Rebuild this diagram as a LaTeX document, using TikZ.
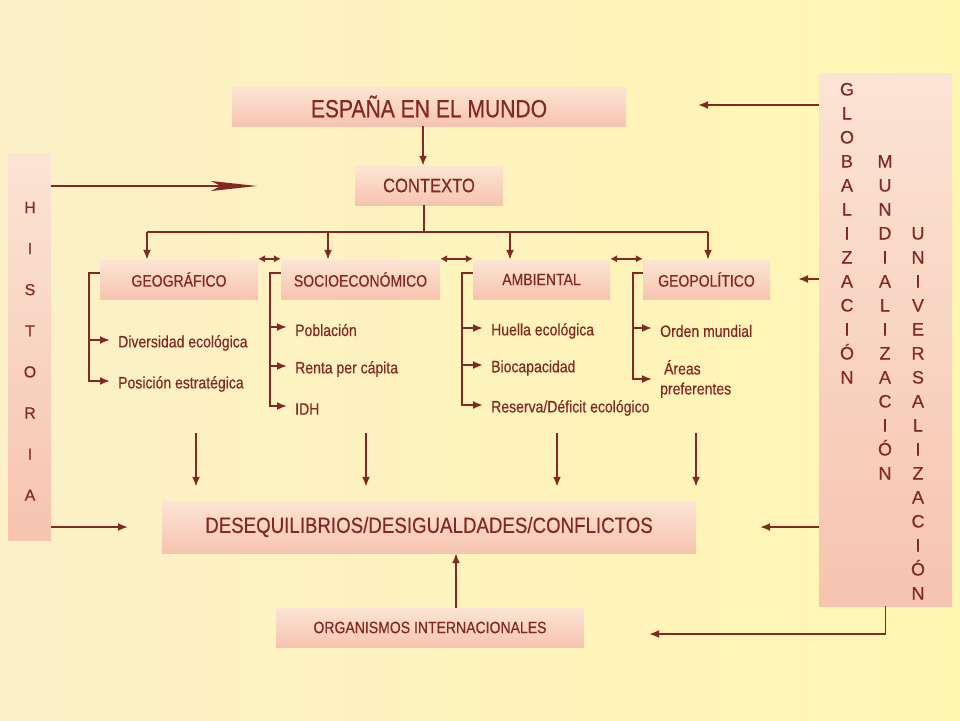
\documentclass[tikz,border=0pt]{standalone}
\usepackage{fontspec}
\setmainfont{Liberation Sans}[FakeBold=0.4]
\newfontfamily\narrowfont{Liberation Sans}[FakeStretch=0.85,FakeBold=0.4]
\usepackage{tikz}
\usetikzlibrary{arrows.meta}
\definecolor{wine}{RGB}{132,40,36}
\definecolor{boxtop}{RGB}{252,228,212}
\definecolor{boxbot}{RGB}{246,196,176}
\definecolor{bgleft}{RGB}{252,240,199}
\definecolor{bgright}{RGB}{255,246,178}
\tikzset{
  box/.style ={top color=boxtop, bottom color=boxbot, text=wine, inner sep=0pt},
  wire/.style ={draw=wine, line width=1.9pt},
  line/.style ={wire, -{Latex[length=10pt,width=8pt]}},
  dline/.style ={wire, {Latex[length=7pt,width=7.5pt]}-{Latex[length=7pt,width=7.5pt]}},
  longline/.style ={wire, -{Stealth[length=46pt,width=10pt,inset=10pt]}},
  entry/.style ={anchor=west, text=wine, inner xsep=8pt, inner ysep=0pt, align=left,
    font=\narrowfont\fontsize{16.5}{20}\selectfont},
  letter/.style ={text=wine, anchor=base, inner sep=0pt}
}

\begin{document}
\begin{tikzpicture}[x=1pt,y=-1pt]
	\fill[left color=bgleft, right color=bgright] (0,0) rectangle (960,720);
	\useasboundingbox (0,0) rectangle (960,720);

	\node[box, minimum width=394pt, minimum height=39pt, font=\narrowfont\fontsize{24.8}{28}\selectfont] (espana) at (429,106.5) {ESPAÑA EN EL MUNDO};
	\node[box, minimum width=148pt, minimum height=39pt, font=\narrowfont\fontsize{19.5}{22}\selectfont] (ctx) at (429,185.5) {CONTEXTO};
	\node[box, minimum width=158pt, minimum height=39pt, font=\narrowfont\fontsize{16.5}{20}\selectfont] (geo) at (179,279.5) {GEOGRÁFICO};
	\node[box, minimum width=159pt, minimum height=39pt, font=\narrowfont\fontsize{16.5}{20}\selectfont] (soc) at (360.5,279.5) {SOCIOECONÓMICO};
	\node[box, minimum width=137pt, minimum height=39pt, font=\narrowfont\fontsize{16.5}{20}\selectfont] (amb) at (541.5,279.5) {AMBIENTAL};
	\node[box, minimum width=127pt, minimum height=39pt, font=\narrowfont\fontsize{16.5}{20}\selectfont] (gpo) at (706.5,279.5) {GEOPOLÍTICO};
	\node[box, minimum width=534pt, minimum height=52pt, font=\narrowfont\fontsize{22}{26}\selectfont] (deseq) at (429,527) {DESEQUILIBRIOS/DESIGUALDADES/CONFLICTOS};
	\node[box, minimum width=308pt, minimum height=39pt, font=\narrowfont\fontsize{16.5}{20}\selectfont] (org) at (430,627.5) {ORGANISMOS INTERNACIONALES};
	\node[box, minimum width=43pt, minimum height=387pt] (hist) at (29.5,346.5) {};
	\node[box, minimum width=133pt, minimum height=533pt] (glob) at (885.5,339.5) {};

	\foreach \l [count=\i from 0] in {H,I,S,T,O,R,I,A}
		\node[letter, font=\fontsize{16}{16}\selectfont] (hi\i) at (30,213+41.1*\i) {\l};
	\foreach \l [count=\i from 0] in {G,L,O,B,A,L,I,Z,A,C,I,Ó,N}
		\node[letter, font=\fontsize{18}{18}\selectfont] (gl\i) at (847,95.5+24*\i) {\l};
	\foreach \l [count=\i from 3] in {M,U,N,D,I,A,L,I,Z,A,C,I,Ó,N}
		\node[letter, font=\fontsize{18}{18}\selectfont] (mu\i) at (885,95.5+24*\i) {\l};
	\foreach \l [count=\i from 6] in {U,N,I,V,E,R,S,A,L,I,Z,A,C,I,Ó,N}
		\node[letter, font=\fontsize{18}{18}\selectfont] (un\i) at (918,95.5+24*\i) {\l};

	\node[entry] (geo1) at (110,343) {Diversidad ecológica};
	\node[entry] (geo2) at (110,384) {Posición estratégica};
	\node[entry] (soc1) at (287,330) {Población};
	\node[entry] (soc2) at (287,369) {Renta per cápita};
	\node[entry] (soc3) at (287,409) {IDH};
	\node[entry] (amb1) at (483,331) {Huella ecológica};
	\node[entry] (amb2) at (483,368) {Biocapacidad};
	\node[entry] (amb3) at (483,408) {Reserva/Déficit ecológico};
	\node[entry] (gpo1) at (652,331) {Orden mundial};
	\node[entry] (gpo2) at (652,379) {~Áreas\\preferentes};

	\draw[line] ([xshift=-6pt]espana.south) -- ([xshift=-6pt]ctx.north);
	\draw[wire] ([xshift=-5pt]ctx.south) -- ++(0,27) coordinate (bus);
	\draw[wire] ([xshift=-32pt]geo.north |- bus) -- ([xshift=1.5pt]gpo.north |- bus);
	\foreach \n/\d in {geo/-32,soc/-32.5,amb/-31.5,gpo/1.5}
		\draw[line] ([xshift=\d pt]\n.north |- bus) -- ([xshift=\d pt]\n.north);

	\draw[dline] ([yshift=1pt]geo.north east) -- ([yshift=1pt]soc.north west);
	\draw[dline] ([yshift=1pt]soc.north east) -- ([yshift=1pt]amb.north west);
	\draw[dline] ([yshift=1pt]amb.north east) -- ([yshift=1pt]gpo.north west);

	\draw[line] ([yshift=6.5pt]geo.west) -- ++(-11,0) coordinate (geoc) |- ([yshift=3pt]geo2.west);
	\draw[line] ([yshift=3pt]geo1.west -| geoc) -- ([yshift=3pt]geo1.west);
	\draw[line] ([yshift=6.5pt]soc.west) -- ++(-11,0) coordinate (socc) |- ([yshift=3pt]soc3.west);
	\draw[line] ([yshift=3pt]soc1.west -| socc) -- ([yshift=3pt]soc1.west);
	\draw[line] ([yshift=3pt]soc2.west -| socc) -- ([yshift=3pt]soc2.west);
	\draw[line] ([yshift=6.5pt]amb.west) -- ++(-11,0) coordinate (ambc) |- ([yshift=3pt]amb3.west);
	\draw[line] ([yshift=3pt]amb1.west -| ambc) -- ([yshift=3pt]amb1.west);
	\draw[line] ([yshift=3pt]amb2.west -| ambc) -- ([yshift=3pt]amb2.west);
	\draw[line] ([yshift=6.5pt]gpo.west) -- ++(-10,0) coordinate (gpoc) |- (gpo2.west);
	\draw[line] ([yshift=3pt]gpo1.west -| gpoc) -- ([yshift=3pt]gpo1.west);

	\foreach \x [count=\i] in {196,366,557,696} {
		\coordinate (down\i) at (\x,433);
		\draw[line, shorten >=14pt] (down\i) -- (down\i |- deseq.north);
	}
	\draw[line] ([xshift=26pt]org.north) -- ([xshift=26pt]org.north |- deseq.south);

	\coordinate (hista) at (257,186);
	\coordinate (histb) at (128,527);
	\draw[longline] (hist.east |- hista) -- (hista);
	\draw[line] (hist.east |- histb) -- (histb);

	\coordinate (toesp) at (698,105);
	\coordinate (togpo) at (798,279);
	\coordinate (todes) at (760,527);
	\coordinate (toorg) at (649,634);
	\draw[line] (toesp -| glob.west) -- (toesp);
	\draw[line] (togpo -| glob.west) -- (togpo);
	\draw[line] (todes -| glob.west) -- (todes);
	\draw[line] (glob.south) |- (toorg);
\end{tikzpicture}
\end{document}
